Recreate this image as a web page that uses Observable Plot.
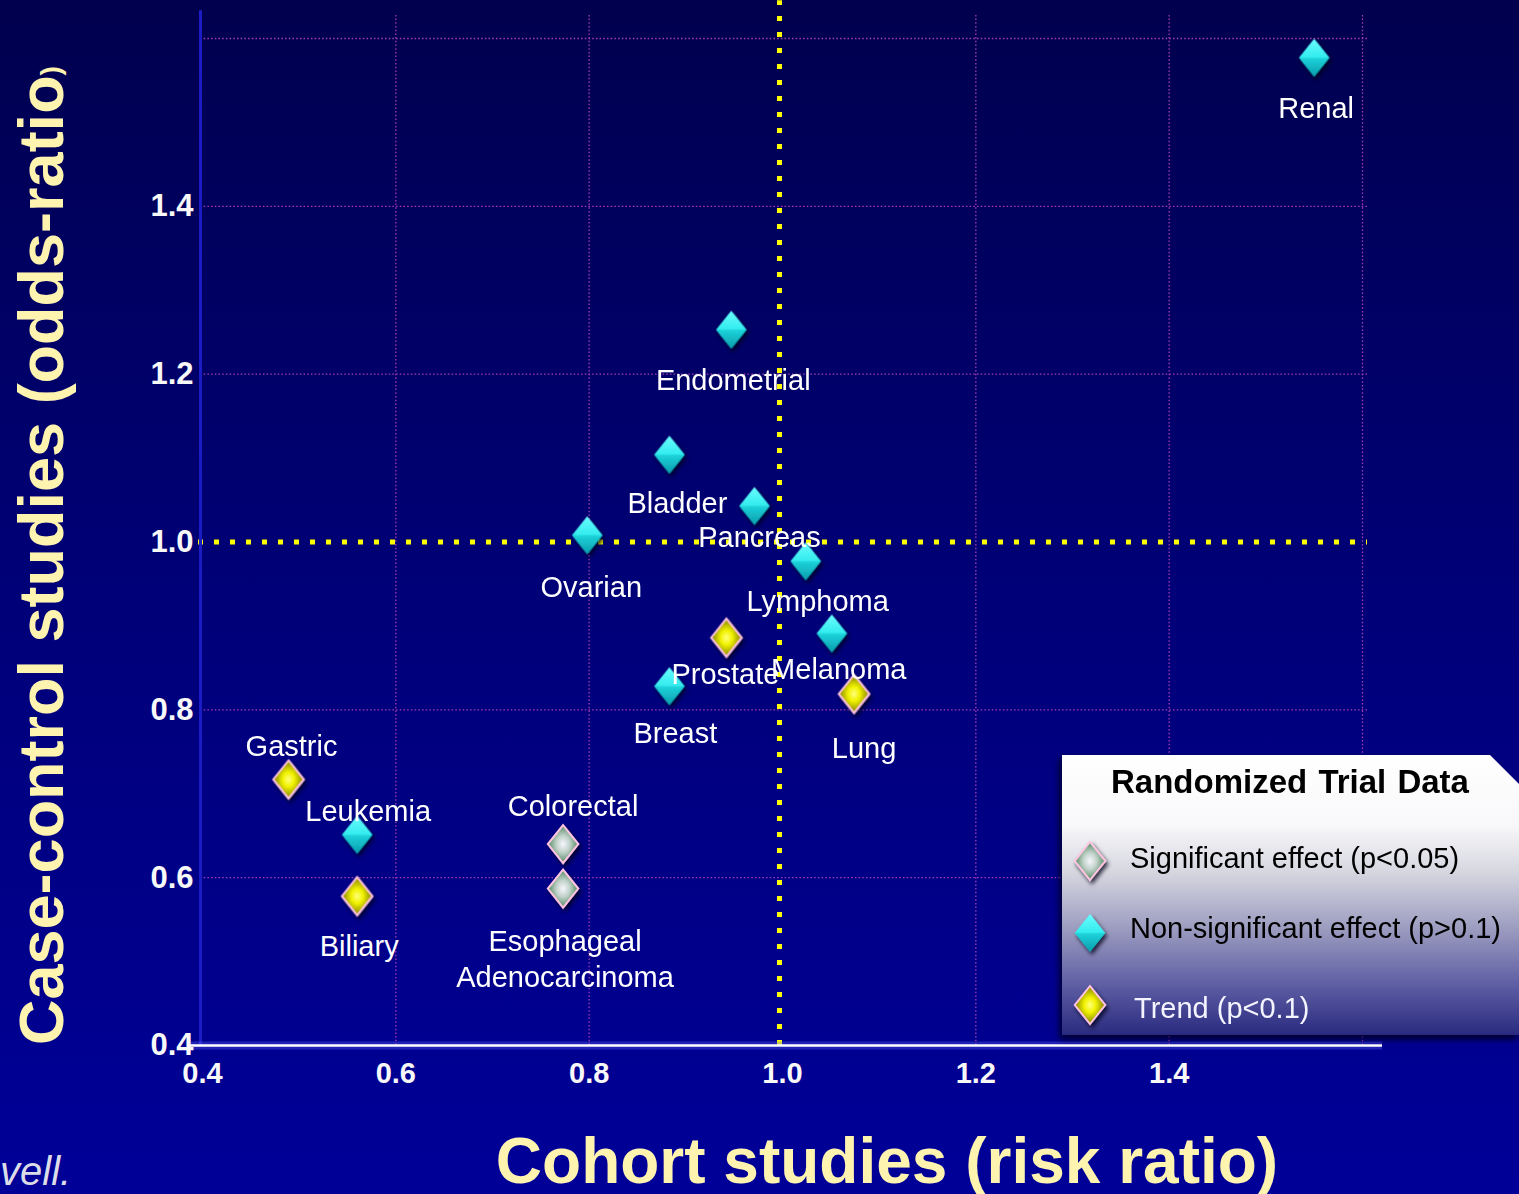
<!DOCTYPE html>
<html><head><meta charset="utf-8">
<script src="https://cdn.jsdelivr.net/npm/d3@7"></script>
<script src="https://cdn.jsdelivr.net/npm/@observablehq/plot@0.6"></script>
<style>html,body{margin:0;padding:0;overflow:hidden;background:#000070}#chart svg{display:block}</style>
</head><body><div id="chart"></div>
<script>
// ---- data ----
const cancers = ["Renal","Endometrial","Bladder","Pancreas","Ovarian","Lymphoma","Prostate","Melanoma","Breast","Lung","Gastric","Leukemia","Biliary","Colorectal","Esophageal\nAdenocarcinoma"];
const cohortRR = [1.550,0.947,0.883,0.971,0.798,1.024,0.942,1.051,0.883,1.074,0.489,0.560,0.560,0.773,0.773];
const caseControlOR = [1.577,1.253,1.104,1.043,1.008,0.977,0.886,0.891,0.828,0.819,0.717,0.651,0.578,0.640,0.587];
const trialResult = ["ns","ns","ns","ns","ns","ns","trend","ns","ns","trend","trend","ns","trend","sig","sig"];
const xTicks = [0.4,0.6,0.8,1.0,1.2,1.4];
const yTicks = [0.4,0.6,0.8,1.0,1.2,1.4];
const gridX = [0.6,0.8,1.2,1.4,1.6];
const gridY = [0.6,0.8,1.2,1.4,1.6];
const refValue = [1.0];
const legendTitle = "Randomized Trial Data";
const legendKeys = ["sig","ns","trend"];
const legendLabels = ["Significant effect (p<0.05)","Non-significant effect (p>0.1)","Trend (p<0.1)"];
const xTitle = "Cohort studies (risk ratio)";
const yTitle = "Case-control studies (odds-ratio";
const yTitleEnd = ")";
const footnote = "vell.";

// ---- layout (label offsets in px) ----
const labelOffset = {"Renal":[2,49],"Endometrial":[2,49],"Bladder":[8,47],"Pancreas":[5,30],"Ovarian":[4,50],"Lymphoma":[12,38],"Prostate":[-1,35],"Melanoma":[7,34],"Breast":[6,45],"Lung":[10,53],"Gastric":[3,-35],"Leukemia":[11,-25],"Biliary":[2,48],"Colorectal":[10,-40],"Esophageal\nAdenocarcinoma":[2,69]};

const data = cancers.map((name,i)=>({name, x:cohortRR[i], y:caseControlOR[i], result:trialResult[i]}));

const diamond = {draw(ctx, size){ const r=Math.sqrt(size/Math.PI); const w=r*0.8; ctx.moveTo(0,-r); ctx.lineTo(w,0); ctx.lineTo(0,r); ctx.lineTo(-w,0); ctx.closePath(); }};
const fillFor = {sig:"url(#gSig)", ns:"url(#gNs)", trend:"url(#gTrend)"};
const strokeFor = {sig:"#ffc4e0", ns:"none", trend:"#ffc4e0"};
const FONT = "'Liberation Sans', Arial, Helvetica, sans-serif";
const grid = "#a83cb0";

const marks = [
  Plot.ruleY(gridY, {stroke:grid, strokeWidth:1.3, strokeDasharray:"1.5,2.2", insetLeft:-2, insetRight:-5}),
  Plot.ruleX(gridX, {y1:0.4, y2:1.628, stroke:grid, strokeWidth:1.3, strokeDasharray:"1.5,2.2"}),
  Plot.ruleY(refValue, {stroke:"#ffff00", strokeWidth:5, strokeDasharray:"5,11", insetLeft:-4, insetRight:-5}),
  Plot.ruleX(refValue, {y1:0.4, y2:1.645, stroke:"#ffff00", strokeWidth:5, strokeDasharray:"5,11", dx:-3}),
  Plot.ruleX([0.4], {y1:0.4, y2:1.633, stroke:"#1c1cc4", strokeWidth:3, dx:-2}),
  Plot.ruleY([0.4], {stroke:"#6060ff", strokeOpacity:0.35, strokeWidth:8, insetLeft:-12, insetRight:-20}),
  Plot.ruleY([0.4], {stroke:"white", strokeWidth:2.5, insetLeft:-12, insetRight:-20}),
  Plot.axisX(xTicks, {tickSize:0, tickPadding:17, fontSize:29, fontWeight:"bold", fill:"#f8f8f8", tickFormat:d=>d.toFixed(1), label:null}),
  Plot.axisY(yTicks, {tickSize:0, tickPadding:9, fontSize:31, fontWeight:"bold", fill:"#f8f8f8", tickFormat:d=>d.toFixed(1), label:null}),
  ...legendKeys.map(k => Plot.dot(data.filter(d=>d.result===k), {x:"x", y:"y", symbol:diamond, r:19, fill:fillFor[k], stroke:strokeFor[k], strokeWidth:2})),
  ...data.map(d => Plot.text([d], {x:"x", y:"y", text:"name", dx:labelOffset[d.name][0], dy:labelOffset[d.name][1], fill:"white", fontSize:29, fontWeight:"normal", lineHeight:1.24}))
];

const plot = Plot.plot({
  width:1519, height:1194,
  marginLeft:202, marginRight:157, marginTop:38, marginBottom:149,
  x:{domain:[0.4,1.6]}, y:{domain:[0.4,1.6]},
  style:{background:"transparent", fontFamily:FONT, color:"white", overflow:"visible"},
  marks
});
document.getElementById("chart").appendChild(plot);

// ---- decorations ----
const svg = d3.select(plot);
const defs = svg.insert("defs", ":first-child");
function lin(id, stops){ const g=defs.append("linearGradient").attr("id",id).attr("x1",0).attr("y1",0).attr("x2",0).attr("y2",1); stops.forEach(([o,c])=>g.append("stop").attr("offset",o).attr("stop-color",c)); return g; }
function rad(id, stops){ const g=defs.append("radialGradient").attr("id",id).attr("cx",0.5).attr("cy",0.5).attr("r",0.55); stops.forEach(([o,c])=>g.append("stop").attr("offset",o).attr("stop-color",c)); return g; }
lin("gBg", [[0,"#00004e"],[0.5,"#000078"],[1,"#000098"]]);
lin("gNs", [[0,"#6afcff"],[0.48,"#34ecee"],[0.52,"#1cd2da"],[1,"#0a9cac"]]);
rad("gTrend", [[0,"#ffff80"],[0.35,"#f2f200"],[1,"#6c6c00"]]);
rad("gSig", [[0,"#f6f6fc"],[0.4,"#c2d2ca"],[1,"#3a7a4c"]]);
lin("gLegend", [[0,"#ffffff"],[0.25,"#f8f8fa"],[0.42,"#d6d6e0"],[0.62,"#9c9cc0"],[0.82,"#5e5ea4"],[1,"#2a2a80"]]);
const f = defs.append("filter").attr("id","fShadow").attr("x","-50%").attr("y","-50%").attr("width","200%").attr("height","200%");
f.append("feDropShadow").attr("dx",2).attr("dy",3).attr("stdDeviation",2).attr("flood-color","#000018").attr("flood-opacity",0.8);
const f2 = defs.append("filter").attr("id","fBox").attr("x","-10%").attr("y","-10%").attr("width","120%").attr("height","120%");
f2.append("feDropShadow").attr("dx",-2).attr("dy",4).attr("stdDeviation",3).attr("flood-color","#000010").attr("flood-opacity",0.8);

svg.insert("rect", ":first-child").attr("x",0).attr("y",0).attr("width",1519).attr("height",1194).attr("fill","url(#gBg)");
svg.selectAll('g[aria-label="dot"]').attr("filter","url(#fShadow)");

// axis titles
const yt = svg.append("text").attr("transform","translate(63,1045) rotate(-90)")
  .attr("font-family",FONT).attr("font-weight","bold").attr("font-size",63).attr("fill","#fff3b0").attr("text-anchor","start");
yt.append("tspan").text(yTitle);
yt.append("tspan").attr("font-size",28).attr("dy",-3).text(yTitleEnd);
svg.append("text").attr("x",887).attr("y",1183).attr("text-anchor","middle")
  .attr("font-family",FONT).attr("font-weight","bold").attr("font-size",64).attr("fill","#fff3b0").text(xTitle);
svg.append("text").attr("x",0).attr("y",1185).attr("text-anchor","start")
  .attr("font-family",FONT).attr("font-style","italic").attr("font-size",40).attr("fill","#dcdce8").text(footnote);

// legend
const lg = svg.append("g").attr("font-family",FONT).attr("text-anchor","start");
lg.append("path").attr("d","M1062,755H1490L1519,784V1035H1062Z").attr("fill","url(#gLegend)").attr("filter","url(#fBox)");
lg.append("text").attr("x",1290).attr("y",793).attr("text-anchor","middle").attr("font-weight","bold").attr("font-size",33).attr("word-spacing",2).attr("fill","#000").text(legendTitle);
const ly = [861,933,1005];
const lTextY = [868,938,1018];
const lTextX = [1130,1130,1134];
const lTextFill = ["#000","#000","#f4f4ff"];
legendKeys.forEach((k,i)=>{
  lg.append("path").attr("transform",`translate(1090,${ly[i]})`).attr("d","M0,-19L15.2,0L0,19L-15.2,0Z")
    .attr("fill",fillFor[k]).attr("stroke",strokeFor[k]).attr("stroke-width",2).attr("filter","url(#fShadow)");
  lg.append("text").attr("x",lTextX[i]).attr("y",lTextY[i]).attr("text-anchor","start").attr("font-size",29).attr("fill",lTextFill[i]).text(legendLabels[i]);
});
</script></body></html>
